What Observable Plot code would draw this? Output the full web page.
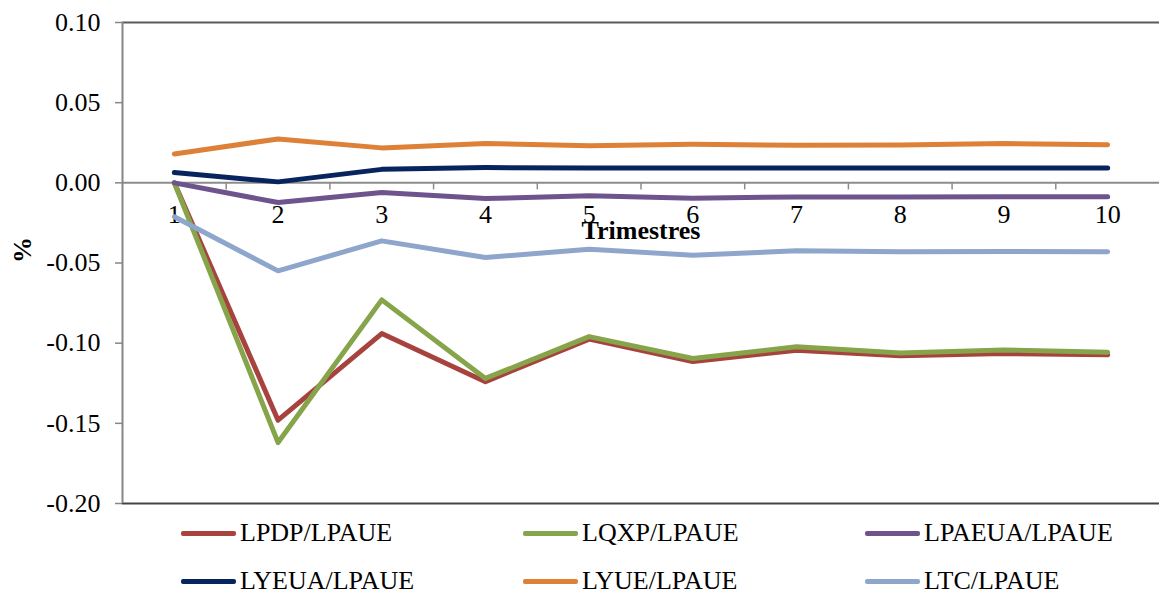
<!DOCTYPE html>
<html>
<head>
<meta charset="utf-8">
<script src="https://cdn.jsdelivr.net/npm/d3@7"></script>
<script src="https://cdn.jsdelivr.net/npm/@observablehq/plot@0.6"></script>
<style>
  html, body { margin: 0; padding: 0; background: #fff; overflow: hidden; width: 1160px; height: 595px; }
  #chart svg { display: block; overflow: visible; }
  #legend { position: relative; width: 1160px; height: 86px; font-family: "Liberation Serif", "Times New Roman", serif; font-size: 26px; color: #000; }
  .item { position: absolute; display: flex; align-items: center; height: 48px; white-space: nowrap; }
  .sw { width: 55px; height: 5px; border-radius: 2px; margin-right: 4px; }
</style>
</head>
<body>
<div id="chart"></div>
<div id="legend"></div>
<script>
const quarters = [1, 2, 3, 4, 5, 6, 7, 8, 9, 10];
const seriesNames = ["LPDP/LPAUE", "LQXP/LPAUE", "LPAEUA/LPAUE", "LYEUA/LPAUE", "LYUE/LPAUE", "LTC/LPAUE"];
const seriesColors = ["#A8423F", "#86A44A", "#6E548D", "#08245E", "#DD8138", "#8EA5CC"];
const lpdp   = [0, -0.148, -0.094, -0.124, -0.0975, -0.1115, -0.1044, -0.1079, -0.1065, -0.1073];
const lqxp   = [0, -0.162, -0.073, -0.122, -0.0959, -0.1096, -0.1023, -0.1062, -0.1042, -0.1056];
const lpaeua = [0, -0.0123, -0.006, -0.0098, -0.0081, -0.0096, -0.0088, -0.0088, -0.0087, -0.0087];
const lyeua  = [0.0064, 0.0006, 0.0084, 0.0095, 0.0093, 0.0092, 0.0092, 0.0092, 0.0092, 0.0092];
const lyue   = [0.018, 0.0274, 0.0218, 0.0245, 0.0232, 0.0240, 0.0235, 0.0236, 0.0245, 0.0237];
const ltc    = [-0.0212, -0.0549, -0.0362, -0.0466, -0.0414, -0.0451, -0.0424, -0.043, -0.0428, -0.043];
const yTicks = [-0.20, -0.15, -0.10, -0.05, 0.00, 0.05, 0.10];
const xTitle = "Trimestres";
const yTitle = "%";

const allSeries = [lpdp, lqxp, lpaeua, lyeua, lyue, ltc];
const data = [];
allSeries.forEach((vals, s) => vals.forEach((v, i) => data.push({series: seriesNames[s], q: quarters[i], v})));
const boundaries = quarters.slice(0, -1).map(q => q + 0.5);

const font = "'Liberation Serif', 'Times New Roman', serif";

const chart = Plot.plot({
  width: 1160,
  height: 509,
  marginTop: 22,
  marginBottom: 6,
  marginLeft: 122,
  marginRight: 1,
  style: {fontFamily: font, fontSize: "26px", color: "#000", background: "#fff", overflow: "visible"},
  x: {domain: [0.5, 10.5], axis: null},
  y: {domain: [-0.2, 0.1], axis: null},
  color: {domain: seriesNames, range: seriesColors},
  marks: [
    Plot.axisY(yTicks, {tickSize: 7, tickPadding: 15, tickFormat: d => d.toFixed(2), stroke: "#868686", strokeWidth: 1.5, fontSize: 26, label: null}),
    Plot.ruleY([0.1], {stroke: "#5a5a5a", strokeWidth: 2}),
    Plot.ruleY([-0.2], {stroke: "#444", strokeWidth: 2}),
    Plot.ruleY([0], {stroke: "#8c8c8c", strokeWidth: 2}),
    Plot.ruleX([0.5], {stroke: "#868686", strokeWidth: 2}),
    Plot.ruleX(boundaries, {x: d => d, y1: 0, y2: -0.0044, stroke: "#8c8c8c", strokeWidth: 1.5}),
    Plot.text(quarters, {x: d => d, y: 0, text: d => String(d), dy: 32, fontSize: 26}),
    Plot.text([xTitle], {x: 5.5, y: 0, dy: 48, fontWeight: "bold", fontSize: 26}),
    Plot.text([yTitle], {frameAnchor: "left", dx: -100, rotate: -90, fontWeight: "bold", fontSize: 26}),
    Plot.line(data, {x: "q", y: "v", z: "series", stroke: "series", strokeWidth: 5, strokeLinejoin: "round", strokeLinecap: "round"})
  ]
});
document.getElementById("chart").appendChild(chart);

const legend = document.getElementById("legend");
const colStarts = [181, 523, 865];
seriesNames.forEach((name, i) => {
  const el = document.createElement("div");
  el.className = "item";
  el.style.left = colStarts[i % 3] + "px";
  el.style.top = (Math.floor(i / 3) * 48) + "px";
  const sw = document.createElement("div");
  sw.className = "sw";
  sw.style.background = seriesColors[i];
  const t = document.createElement("span");
  t.textContent = name;
  el.appendChild(sw);
  el.appendChild(t);
  legend.appendChild(el);
});
</script>
</body>
</html>
